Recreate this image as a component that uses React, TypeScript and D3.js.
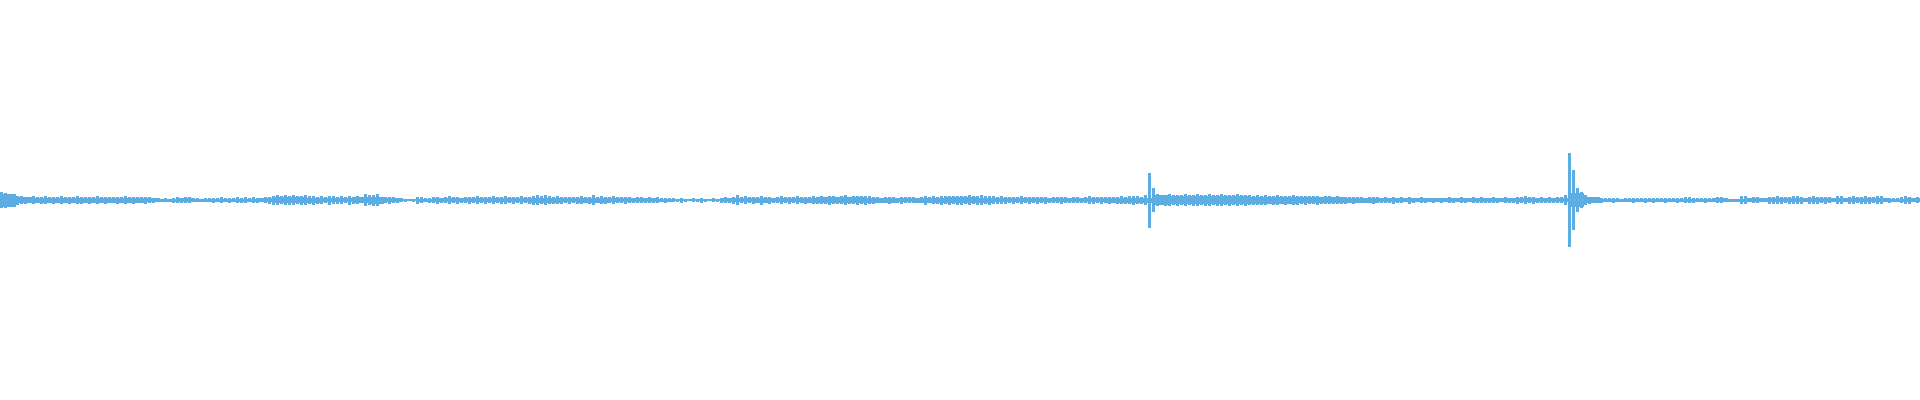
import React from "react";
import * as d3 from "d3";

// Peak amplitude per 4px block (48px per row)
const peaks: number[] = [
  8, 7.5, 6, 5, 4.5, 4, 3.5, 3, 4, 3, 3.5, 4,
  3, 3.5, 3, 4, 3, 3.5, 3, 4, 3.5, 3, 3.5, 3,
  4, 3, 3.5, 3, 3, 3.5, 3, 4, 3, 3.5, 3, 3,
  3.5, 3, 2.5, 2, 1.5, 2, 1.5, 2.5, 3, 2.5, 3, 3,
  2, 2, 1.5, 2, 2, 2.5, 2, 3, 2, 2.5, 2, 3,
  2.5, 3, 2, 3, 2.5, 2, 3, 3.5, 4.5, 5, 4, 5,
  4.5, 5, 4, 4.5, 5, 4, 4.5, 3.5, 4, 3, 4.5, 4,
  3.5, 4, 3, 4.5, 3.5, 4, 1.5, 6, 5, 5.5, 6, 3,
  3, 3.5, 3, 2.5, 2, 1.5, 1, 1.5, 3.5, 3, 2, 2.5,
  3, 3.5, 2.5, 3, 4, 3, 3.5, 2.5, 3, 3.5, 3, 4,
  3, 3.5, 3, 4, 3, 3.5, 4, 3, 3.5, 3, 4, 3,
  3.5, 4.5, 5, 4, 5, 4, 3.5, 4, 3.5, 3, 3.5, 3,
  3.5, 4, 3, 3.5, 5, 3, 4, 3.5, 3, 4, 3, 3,
  3.5, 3, 2.5, 3, 3, 2.5, 3, 2.5, 3, 2, 2.5, 2,
  2, 1.5, 2.5, 1.5, 1, 2, 1.5, 2.5, 1.5, 1, 2, 1.5,
  2.5, 3, 2.5, 3.5, 5, 3, 4, 3, 3.5, 3, 4.5, 3,
  3.5, 2.5, 3, 4, 3, 3.5, 3, 4, 3, 3.5, 3, 4,
  3.5, 4, 3.5, 4.5, 4, 3.5, 4, 5, 3.5, 4, 4.5, 4,
  4.5, 4, 3.5, 3, 2.5, 3, 3.5, 3, 2.5, 3.5, 3, 3,
  3, 2.5, 3, 4.5, 3, 4, 3.5, 4.5, 4, 4.5, 4, 4.5,
  4.5, 4, 5, 4, 4.5, 5, 4, 4.5, 4, 3.5, 4, 3.5,
  3, 3.5, 3, 4, 3, 3.5, 3, 3.5, 3, 3.5, 2.5, 3,
  3, 3.5, 3, 2.5, 3, 3, 2.5, 3, 4, 3.5, 3, 3.5,
  3, 3.5, 3, 3.5, 4, 3.5, 4, 4.5, 4, 3.5, 5, 27.5,
  12, 6, 5, 5.5, 6, 5, 5.5, 5, 6, 5, 5.5, 6,
  5, 5.5, 6, 5, 5.5, 6, 5, 5.5, 5, 6, 5, 5.5,
  5, 4.5, 5, 4.5, 5, 4, 4.5, 5, 4, 4.5, 4, 5,
  4.5, 4, 4.5, 4, 4, 4.5, 3.5, 4, 4, 3.5, 4, 3.5,
  3.5, 3, 3.5, 3, 3, 2.5, 3, 3.5, 3, 2.5, 3, 2.5,
  3.5, 2.5, 3, 2, 3.5, 2.5, 2, 3, 2.5, 2, 2.5, 2,
  2.5, 2, 3, 2.5, 2, 3, 2.5, 2, 3, 2.5, 3, 2.5,
  2.5, 3, 2.5, 2, 3, 2.5, 2.5, 3.5, 3, 4, 3, 3.5,
  2.5, 3, 2.5, 3, 2.5, 3, 3, 5, 47, 30, 12, 8,
  5, 3.5, 2, 2, 2.5, 2, 2, 2.5, 2, 1.5, 2, 2,
  2.5, 2, 2, 2.5, 2, 2.5, 2, 2, 2.5, 2, 2, 2.5,
  2, 3, 3, 2.5, 2, 2, 2.5, 2, 2, 3, 3, 1.5,
  1.5, 1.5, 1.5, 4, 4, 2, 3, 3, 1.5, 2, 3.5, 3.5,
  4, 3.5, 3, 3.5, 4, 4, 3.5, 2, 3.5, 4, 3.5, 3,
  3.5, 3, 2, 4, 4, 2, 3.5, 4, 3, 3.5, 4, 3.5,
  3, 4, 4, 2, 2.5, 2, 2, 3, 4, 3.5, 2, 3,
];

// RMS (core band) amplitude per 16px block (192px per row)
const rms: number[] = [
  6.5, 3, 2.5, 2.5, 2.5, 2.5, 2.5, 2.5, 2.5, 2, 1.5, 2,
  1.5, 1.5, 1.5, 1.5, 2, 3, 3, 2.5, 2, 2, 3, 3.5,
  2, 1, 1.5, 2, 2, 2, 2, 2, 2, 2.5, 2.5, 2,
  2.5, 2.5, 2, 2, 2, 1.5, 1, 1, 1, 2, 2, 2.5,
  2, 2, 2.5, 3, 3, 3, 2.5, 2.5, 2, 2.5, 2.5, 3,
  3, 2.5, 2, 2, 2, 2, 2, 2, 2, 2.5, 2.5, 2.5,
  5, 4, 4, 4, 4, 4, 3.5, 3.5, 3.5, 3, 3, 3,
  2.5, 2.5, 2, 2, 2, 2, 2, 2, 2, 2, 2, 2,
  2, 2, 7, 3, 1.5, 1.5, 1.5, 1.5, 1.5, 1.5, 1.5, 2,
  1.5, 2, 2, 2, 2, 2, 2, 2, 2, 2, 1.5, 2,
];

const W = 1920;
const H = 400;
const COLOR = "#5dade2";

export default function App() {
  const xPeak = d3.scaleLinear().domain([0, peaks.length]).range([0, W]);
  const xRms = d3.scaleLinear().domain([0, rms.length]).range([0, W]);
  const y = d3.scaleLinear().domain([-200, 200]).range([H, 0]);

  const rmsData = [...rms, rms[rms.length - 1]];
  const area = d3
    .area<number>()
    .x((_, i) => xRms(i))
    .y0((d) => y(-d))
    .y1((d) => y(d))
    .curve(d3.curveStepAfter);

  const step = xPeak(1) - xPeak(0);

  return (
    <svg
      width={W}
      height={H}
      style={{ position: "absolute", left: 0, top: 0, display: "block" }}
    >
      <rect width={W} height={H} fill="#ffffff" />
      <path d={area(rmsData) || ""} fill={COLOR} shapeRendering="crispEdges" />
      {peaks.map((a, i) => (
        <rect
          key={i}
          x={xPeak(i)}
          width={step - 1}
          y={y(a)}
          height={y(-a) - y(a)}
          fill={COLOR}
          shapeRendering="crispEdges"
        />
      ))}
    </svg>
  );
}
